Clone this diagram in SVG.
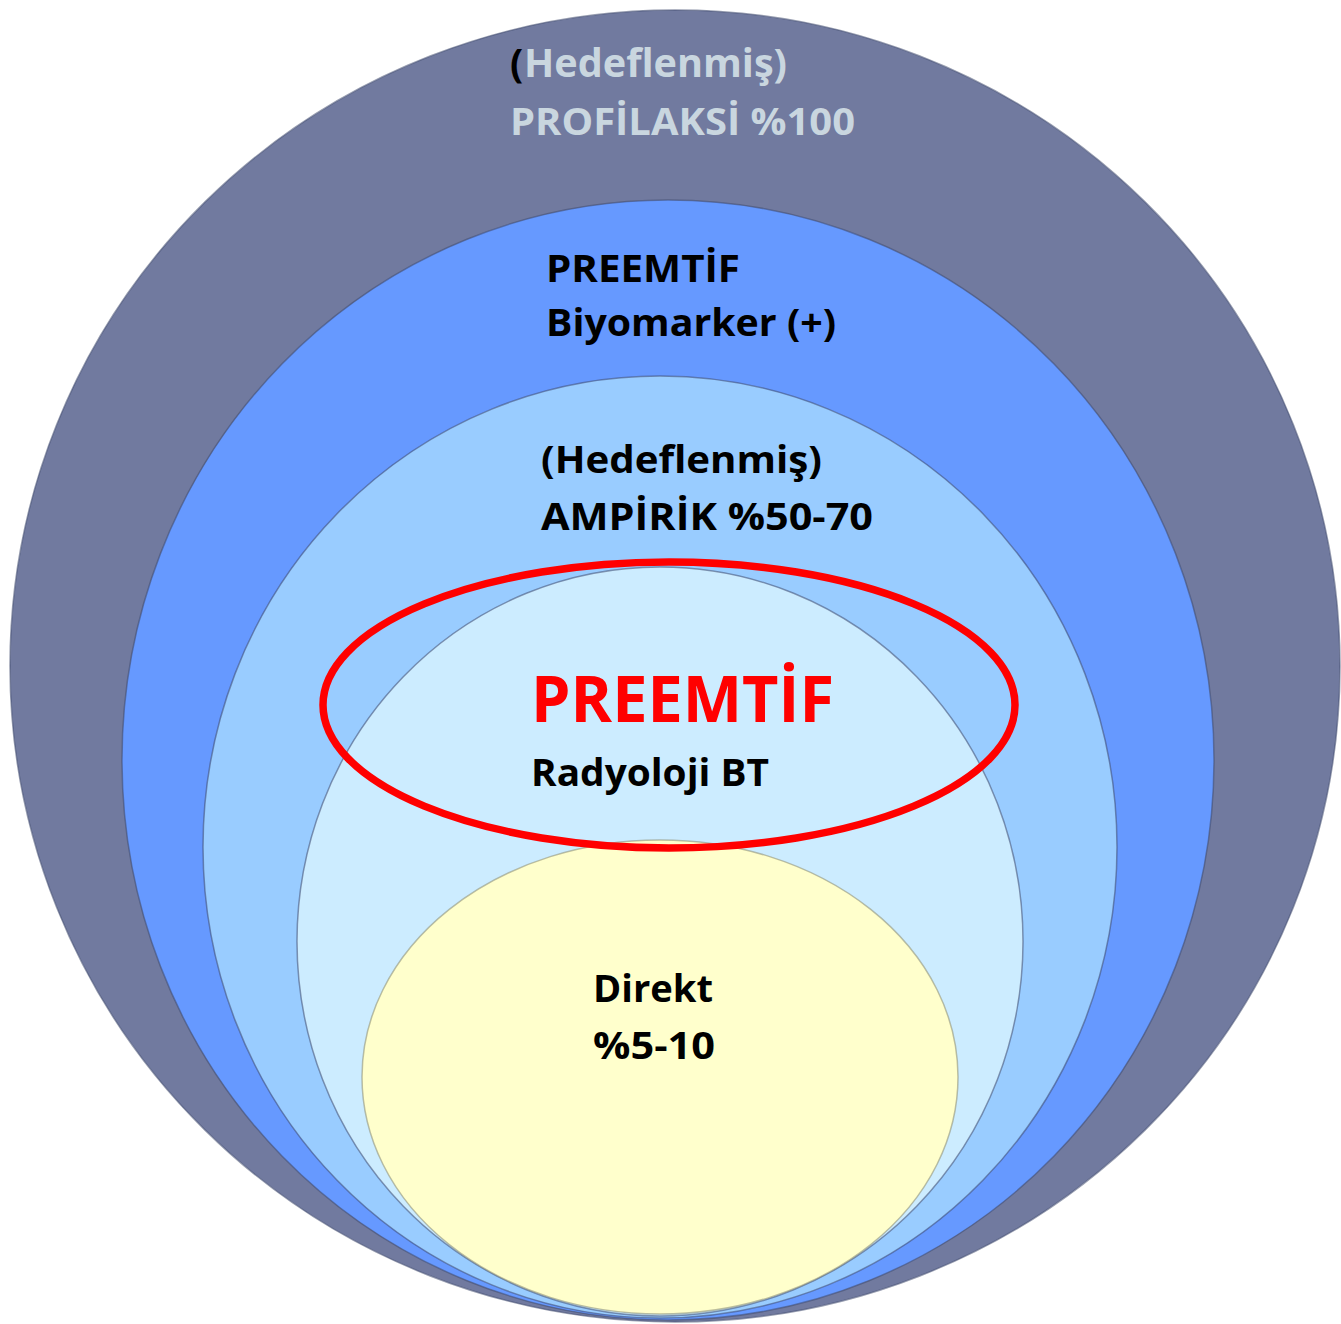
<svg xmlns="http://www.w3.org/2000/svg" width="1341" height="1324" viewBox="0 0 1341 1324">
<style>
.ring{stroke:#3f4a6e;stroke-opacity:0.55;stroke-width:1.5}
.t{font-family:"Open Sans","Noto Sans","DejaVu Sans",sans-serif;font-weight:700;fill:#000}
.m{font-size:37px}
.light{fill:#c9d6df}
</style>
<rect width="1341" height="1324" fill="#ffffff"/>
<g id="profilaksi">
<ellipse class="ring" cx="675" cy="666" rx="665" ry="656" fill="#717a9f"/>
<text class="t" x="510" y="77" style="font-size:39px">(</text>
<text class="t light" x="524" y="77" style="font-size:39px" textLength="263" lengthAdjust="spacingAndGlyphs">Hedeflenmiş)</text>
<text class="t light" x="510" y="135" style="font-size:38px" textLength="345" lengthAdjust="spacingAndGlyphs">PROFİLAKSİ %100</text>
</g>
<g id="preemtif-biyomarker">
<ellipse class="ring" cx="668" cy="760" rx="546" ry="560" fill="#6699ff"/>
<text class="t m" x="546" y="282" textLength="194" lengthAdjust="spacingAndGlyphs">PREEMTİF</text>
<text class="t m" x="546" y="336" textLength="290" lengthAdjust="spacingAndGlyphs">Biyomarker (+)</text>
</g>
<g id="ampirik">
<ellipse class="ring" cx="660" cy="847" rx="457" ry="471" fill="#99ccff"/>
<text class="t m" x="541" y="473" textLength="281" lengthAdjust="spacingAndGlyphs">(Hedeflenmiş)</text>
<text class="t m" x="541" y="530" textLength="332" lengthAdjust="spacingAndGlyphs">AMPİRİK %50-70</text>
</g>
<g id="preemtif-radyoloji">
<ellipse class="ring" cx="660" cy="941.5" rx="363" ry="374.5" fill="#ccecff"/>
<text class="t" x="531" y="722" style="font-size:65px;fill:#ff0000" textLength="303" lengthAdjust="spacingAndGlyphs">PREEMTİF</text>
<text class="t m" x="531" y="786" textLength="238" lengthAdjust="spacingAndGlyphs">Radyoloji BT</text>
</g>
<g id="direkt">
<ellipse class="ring" cx="660" cy="1077" rx="298" ry="237" fill="#ffffcc" style="stroke:#8a8a70"/>
<text class="t m" x="593" y="1002" textLength="120" lengthAdjust="spacingAndGlyphs">Direkt</text>
<text class="t m" x="593" y="1059" textLength="122" lengthAdjust="spacingAndGlyphs">%5-10</text>
</g>
<g id="highlight">
<ellipse cx="669" cy="705" rx="346" ry="143" fill="none" stroke="#ff0000" stroke-width="7.5"/>
</g>
</svg>
